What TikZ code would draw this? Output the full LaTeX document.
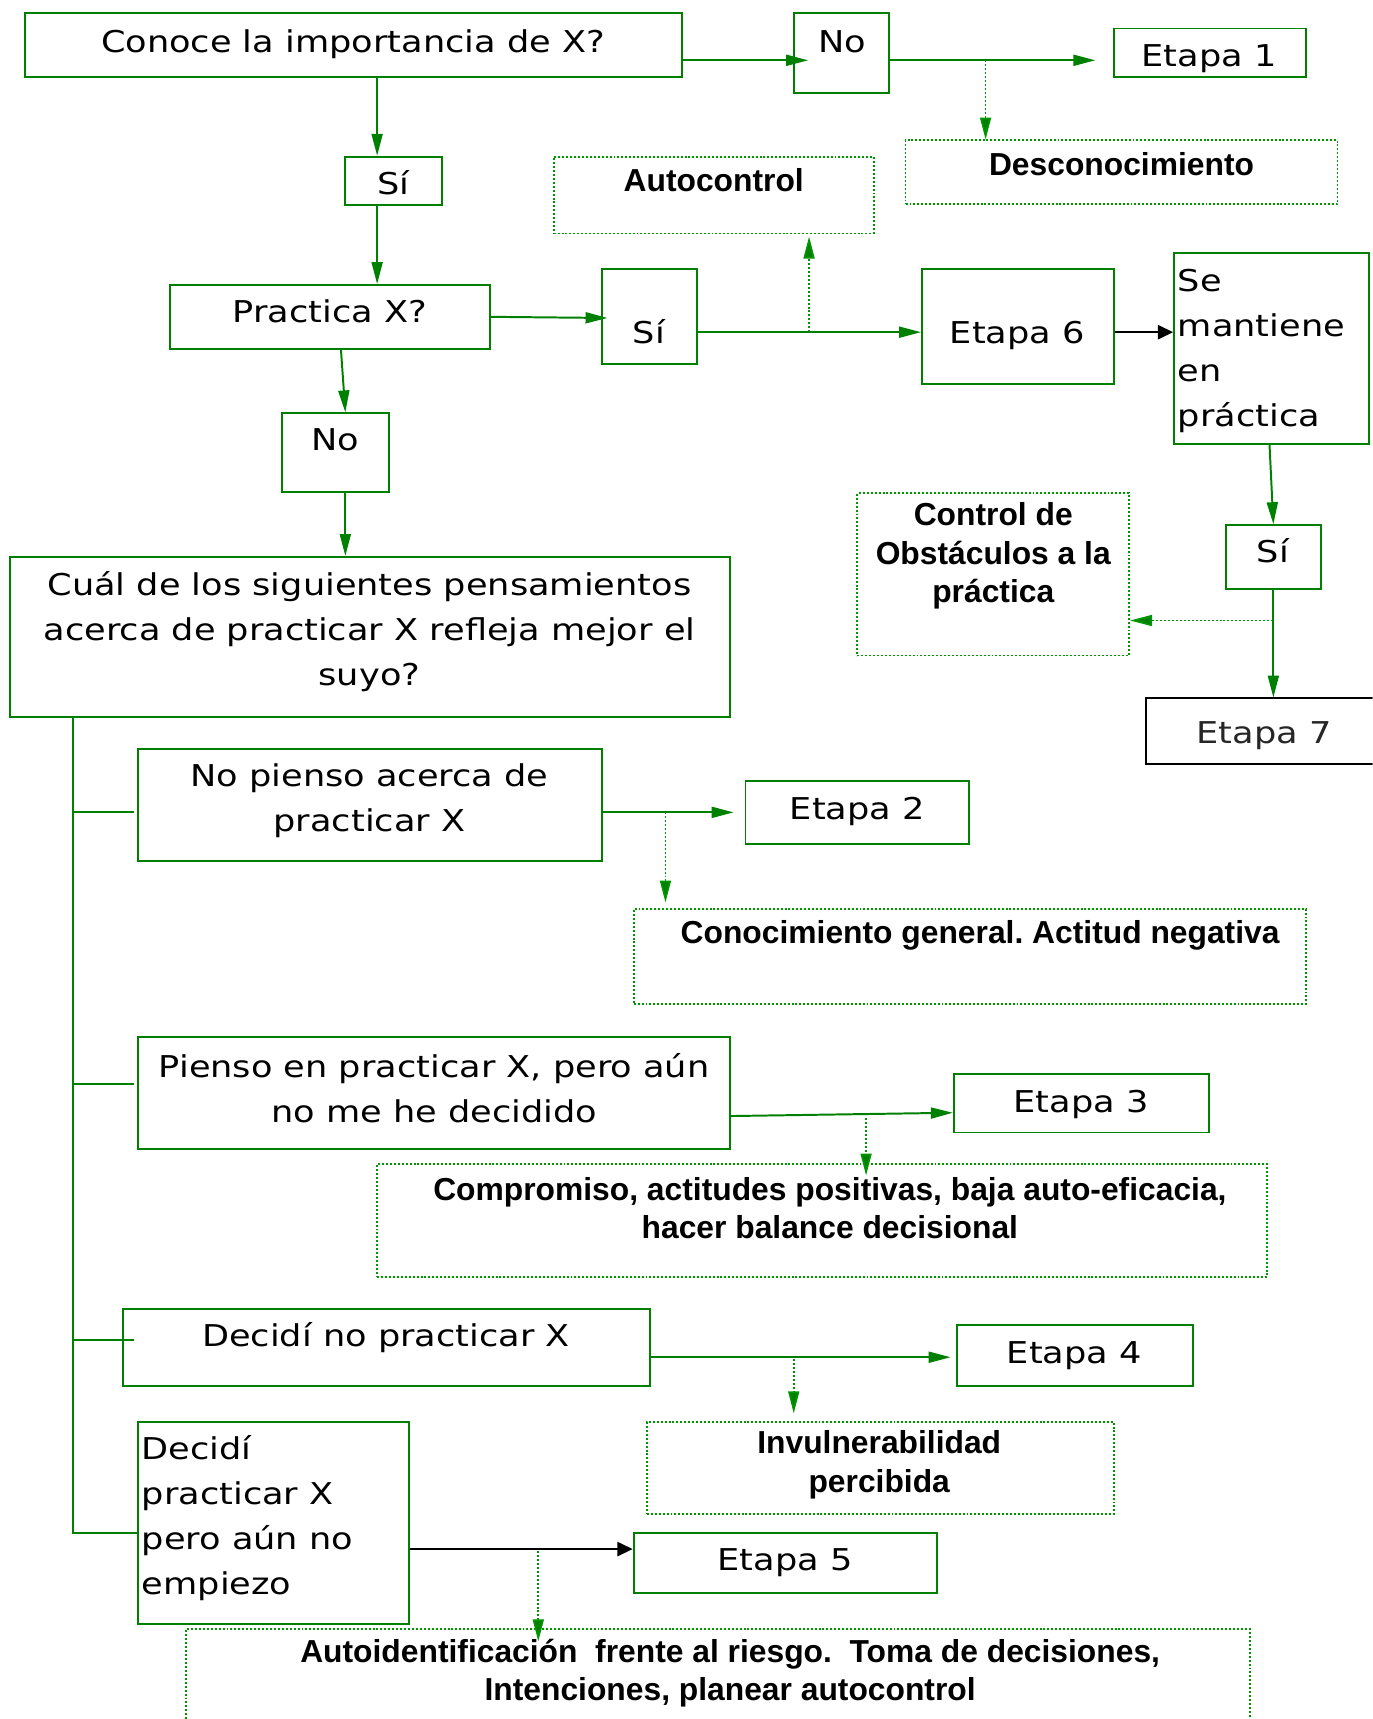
\documentclass[tikz,border=0pt]{standalone}
\usepackage{fontspec}
\setmainfont{DejaVu Sans}[FakeStretch=1.17]
\newfontfamily\bfnt{Liberation Sans}
\usetikzlibrary{arrows.meta,fit,calc}
\definecolor{gr}{RGB}{0,128,0}
\definecolor{gd}{RGB}{0,150,0}
\newcommand\regf{\fontsize{13.7}{20.5}\selectfont}
\newcommand\boldf{\bfnt\bfseries\frenchspacing\fontsize{14.5}{17.5}\selectfont}
\begin{document}
\begin{tikzpicture}[x=0.5pt,y=-0.5pt,
  gbox/.style={draw=gr, line width=0.9pt, inner sep=0pt},
  dbox/.style={draw=gd, line width=0.8pt, dash pattern=on 0.9pt off 0.9pt, inner sep=0pt},
  kbox/.style={draw=black, line width=0.8pt, inner sep=0pt},
  txt/.style={inner sep=0pt, font=\regf, anchor=mid, yshift=-2pt},
  mtxt/.style={inner sep=0pt, font=\regf, anchor=center, align=center, yshift=-1pt},
  ltxt/.style={inner sep=0pt, font=\regf, anchor=west, align=left, yshift=-1pt},
  btxt/.style={inner sep=0pt, font=\boldf, anchor=mid, yshift=-2.5pt},
  mbtxt/.style={inner sep=0pt, font=\boldf, anchor=center, align=center, yshift=-1.5pt},
  garrow/.style={draw=gr, line width=0.9pt, -{Triangle[length=10pt,width=5pt]}},
  darrow/.style={draw=gd, line width=0.8pt, dash pattern=on 0.9pt off 0.9pt, -{Triangle[length=10pt,width=5pt,fill=gr]}},
  karrow/.style={draw=black, line width=0.9pt, -{Triangle[length=7pt,width=6.5pt]}},
  gline/.style={draw=gr, line width=0.9pt}]
\useasboundingbox (0,0) rectangle (1252,1568);
\clip (0,0) rectangle (1252,1568);

% boxes
\node[gbox, fit={(23,12) (622,70)}] (conoce) {};
\node[txt] (conoce-t) at (322,38) {Conoce la importancia de X?};
\node[gbox, fit={(724,12) (811,85)}] (no1) {};
\node[txt] (no1-t) at (768,38) {No};
\node[gbox, fit={(1016,26) (1191,70)}] (et1) {};
\node[txt] (et1-t) at (1103,51) {Etapa 1};
\node[dbox, fit={(826,128) (1220,186)}] (desc) {};
\node[btxt] (desc-t) at (1023,150) {Desconocimiento};
\node[gbox, fit={(315,143) (403,187)}] (si1) {};
\node[txt] (si1-t) at (359,168) {Sí};
\node[dbox, fit={(505,143) (797,213)}] (auto) {};
\node[btxt] (auto-t) at (651,164) {Autocontrol};
\node[gbox, fit={(155,260) (447,318)}] (prac) {};
\node[txt] (prac-t) at (301,285) {Practica X?};
\node[gbox, fit={(549,245) (636,332)}] (si2) {};
\node[txt] (si2-t) at (592,304) {Sí};
\node[gbox, fit={(841,245) (1016,350)}] (et6) {};
\node[txt] (et6-t) at (928,304) {Etapa 6};
\node[gbox, fit={(1071,231) (1249,405)}] (sem) {};
\node[ltxt] (sem-t) at (1074,318) {Se\\mantiene\\en\\práctica};
\node[gbox, fit={(1118,479) (1205,537)}] (si3) {};
\node[txt] (si3-t) at (1161,504) {Sí};
\node[kbox, fit={(1045,637) (1262,697)}] (et7) {};
\node[txt, text=black!85] (et7-t) at (1153,669) {Etapa 7};
\node[dbox, fit={(782,450) (1030,598)}] (ctrl) {};
\node[mbtxt] (ctrl-t) at (906,504) {Control de\\Obstáculos a la\\práctica};
\node[gbox, fit={(257,377) (355,449)}] (no2) {};
\node[txt] (no2-t) at (306,401) {No};
\node[gbox, fit={(9,508) (666,654)}] (cual) {};
\node[mtxt] (cual-t) at (337,574) {Cuál de los siguientes pensamientos\\acerca de practicar X refleja mejor el\\suyo?};
\node[gbox, fit={(126,683) (549,785)}] (nop) {};
\node[mtxt] (nop-t) at (337,728) {No pienso acerca de\\practicar X};
\node[gbox, fit={(680,712) (884,770)}] (et2) {};
\node[txt] (et2-t) at (782,738) {Etapa 2};
\node[dbox, fit={(578,829) (1191,916)}] (conoc) {};
\node[btxt] (conoc-t) at (894,850) {Conocimiento general. Actitud negativa};
\node[gbox, fit={(126,946) (666,1048)}] (pien) {};
\node[mtxt] (pien-t) at (396,991) {Pienso en practicar X, pero aún\\no me he decidido};
\node[gbox, fit={(870,980) (1103,1033)}] (et3) {};
\node[txt] (et3-t) at (986,1005) {Etapa 3};
\node[dbox, fit={(344,1062) (1156,1165)}] (comp) {};
\node[mbtxt] (comp-t) at (757,1099) {Compromiso, actitudes positivas, baja auto-eficacia,\\hacer balance decisional};
\node[gbox, fit={(112,1194) (593,1264)}] (dno) {};
\node[txt] (dno-t) at (352,1219) {Decidí no practicar X};
\node[gbox, fit={(873,1209) (1088,1264)}] (et4) {};
\node[txt] (et4-t) at (980,1234) {Etapa 4};
\node[dbox, fit={(590,1297) (1016,1381)}] (inv) {};
\node[mbtxt] (inv-t) at (802,1333) {Invulnerabilidad\\percibida};
\node[gbox, fit={(126,1297) (373,1481)}] (dpr) {};
\node[ltxt] (dpr-t) at (129,1383) {Decidí\\practicar X\\pero aún no\\empiezo};
\node[gbox, fit={(578,1398) (855,1453)}] (et5) {};
\node[txt] (et5-t) at (716,1423) {Etapa 5};
\node[dbox, fit={(170,1486) (1140,1640)}] (aid) {};
\node[mbtxt] (aid-t) at (666,1523) {Autoidentificación\ \ frente al riesgo.\ \ Toma de decisiones,\\Intenciones, planear autocontrol};

% helper coordinates
\coordinate (d1) at (899,55);
\coordinate (d2) at (738,303);
\coordinate (d3) at (1161,566);
\coordinate (d4) at (607,741);
\coordinate (d5) at (790,1020);
\coordinate (d6) at (724,1240);
\coordinate (d7) at (491,1415);
\coordinate (b1) at (67,741);
\coordinate (b2) at (67,989);
\coordinate (b3) at (67,1222);
\coordinate (b4) at (67,1398);

% connectors
\draw[garrow, shorten >=-7pt] (conoce.east |- 0,55) -- (no1.west |- 0,55);
\draw[garrow, shorten >=8pt] (no1.east |- 0,55) -- (et1.west |- 0,55);
\draw[darrow] (d1) -- (desc.north -| d1);
\draw[garrow] (conoce.south -| 344,0) -- (si1.north -| 344,0);
\draw[garrow] (si1.south -| 344,0) -- (prac.north -| 344,0);
\draw[garrow, shorten >=-3pt] (prac.east |- 0,289) -- (si2.west |- 0,290);
\draw[garrow] (si2.east |- 0,303) -- (et6.west |- 0,303);
\draw[darrow, shorten >=1pt] (d2) -- (auto.south -| d2);
\draw[karrow] (et6.east |- 0,303) -- (sem.west |- 0,303);
\draw[garrow] (sem.south -| 1158,0) -- (si3.north);
\draw[garrow] (si3.south) -- (et7.north -| si3.south);
\draw[darrow] (d3) -- (ctrl.east |- d3);
\draw[garrow] (prac.south -| 311,0) -- (no2.north -| 315,0);
\draw[garrow] (no2.south -| 315,0) -- (cual.north -| 315,0);
\draw[gline] (cual.south -| b4) -- (b4) -- (dpr.west |- b4);
\draw[gline, shorten >=1.5pt] (b1) -- (nop.west |- b1);
\draw[gline, shorten >=1.5pt] (b2) -- (pien.west |- b2);
\draw[gline, shorten >=-5.5pt] (b3) -- (dno.west |- b3);
\draw[garrow, shorten >=5pt] (nop.east |- 0,741) -- (et2.west |- 0,741);
\draw[darrow, shorten >=2.5pt] (d4) -- (conoc.north -| d4);
\draw[garrow] (pien.east |- 0,1018) -- (et3.west |- 0,1015);
\draw[darrow, shorten >=-5.5pt] (d5) -- (comp.north -| d5);
\draw[garrow, shorten >=2.5pt] (dno.east |- 0,1238) -- (et4.west |- 0,1238);
\draw[darrow, shorten >=3.5pt] (d6) -- (inv.north -| d6);
\draw[karrow] (dpr.east |- 0,1413) -- (et5.west |- 0,1413);
\draw[darrow, shorten >=-6pt] (d7) -- (aid.north -| d7);
\end{tikzpicture}
\end{document}
